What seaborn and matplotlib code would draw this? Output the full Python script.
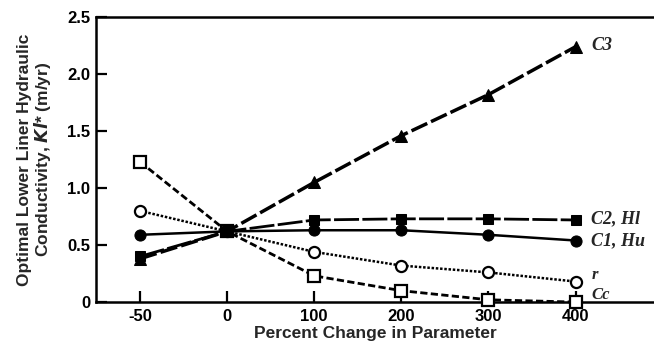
import matplotlib
matplotlib.use("Agg")
import matplotlib.pyplot as plt
import seaborn as sns
import numpy as np

# Percent change applied to each parameter
pct_change = ["-50", "0", "100", "200", "300", "400"]

# Optimal lower liner hydraulic conductivity Kl* (m/yr) for each parameter
kl_c3 = [0.38, 0.62, 1.05, 1.46, 1.82, 2.24]
kl_c2_hl = [0.40, 0.62, 0.72, 0.73, 0.73, 0.72]
kl_c1_hu = [0.59, 0.62, 0.63, 0.63, 0.59, 0.54]
kl_r = [0.80, 0.62, 0.44, 0.32, 0.26, 0.18]
kl_cc = [1.23, 0.62, 0.23, 0.10, 0.02, 0.00]

series_labels = ["C3", "C2, Hl", "C1, Hu", "r", "Cc"]

sns.set_theme(style="ticks")
plt.rcParams["font.family"] = ["Liberation Sans", "DejaVu Sans"]

fig = plt.figure(figsize=(6.54, 3.48), dpi=100)
ax = fig.add_axes([0.1468, 0.132, 0.8532, 0.819])

pos = np.arange(len(pct_change))

# Open-marker series first so the filled markers sit on top at the shared point
styles = [
    (kl_cc, dict(linestyle=(0, (2.6, 1.2)), linewidth=2.0, marker="s", markersize=8,
                 markerfacecolor="white", markeredgecolor="black", markeredgewidth=1.6)),
    (kl_r, dict(linestyle=(0, (1.0, 0.7)), linewidth=1.8, marker="o", markersize=8,
                markerfacecolor="white", markeredgecolor="black", markeredgewidth=1.6)),
    (kl_c1_hu, dict(linestyle="-", linewidth=1.8, marker="o", markersize=8,
                    markerfacecolor="black", markeredgecolor="black")),
    (kl_c2_hl, dict(linestyle=(0, (9, 1.2)), linewidth=2.0, marker="s", markersize=7.5,
                    markerfacecolor="black", markeredgecolor="black")),
    (kl_c3, dict(linestyle=(0, (5, 1.2)), linewidth=2.5, marker="^", markersize=8.5,
                 markerfacecolor="black", markeredgecolor="black")),
]

for vals, kw in styles:
    sns.lineplot(x=pos, y=vals, ax=ax, color="black", zorder=3, clip_on=False, **kw)

ax.set_xlim(-0.505, 5.9)
ax.set_ylim(0, 2.5)
ax.set_xticks(pos)
ax.set_xticklabels(pct_change)
ax.set_yticks([0, 0.5, 1.0, 1.5, 2.0, 2.5])
ax.set_yticklabels(["0", "0.5", "1.0", "1.5", "2.0", "2.5"])
ax.tick_params(direction="in", length=8, width=1.6, colors="black",
               labelsize=12, pad=4)
ax.tick_params(axis="x", pad=5)
for lab in ax.get_xticklabels() + ax.get_yticklabels():
    lab.set_fontweight("bold")

for side in ["left", "bottom", "top"]:
    ax.spines[side].set_linewidth(1.8)
    ax.spines[side].set_color("black")
ax.spines["right"].set_visible(False)

ax.set_xlabel("Percent Change in Parameter", fontsize=12.5, fontweight="bold", labelpad=1.5)
ax.set_ylabel("Optimal Lower Liner Hydraulic\nConductivity, $\\mathbfit{Kl}$* (m/yr)",
              fontsize=12.5, fontweight="bold", labelpad=10, linespacing=1.05)

# Series names at the right end of each curve
label_y = [2.25, 0.73, 0.535, 0.235, 0.065]
label_size = [13, 13, 13, 12, 12]
for name, y, fs in zip(series_labels, label_y, label_size):
    ax.text(5.18, y, name, fontsize=fs, fontweight="bold", fontstyle="italic",
            family="Liberation Serif", va="center", ha="left")

fig.savefig("out.png", dpi=100)
